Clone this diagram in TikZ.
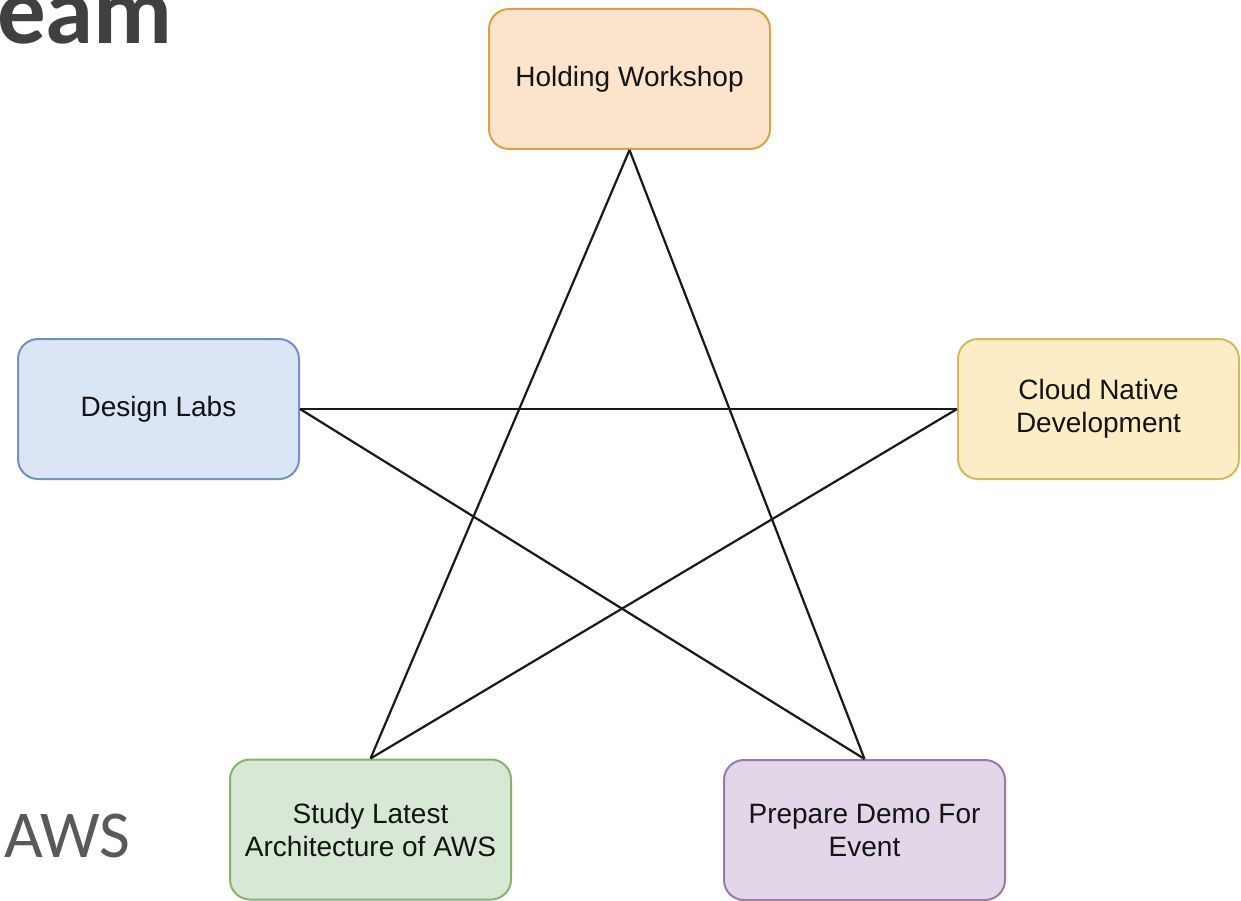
\documentclass[tikz,border=0pt]{standalone}
\usepackage{fontspec}
\setmainfont{Liberation Sans}
\newfontfamily\slidefont{Carlito}
\definecolor{orfill}{HTML}{FCE3CB}\definecolor{ordraw}{HTML}{D9A24A}
\definecolor{blfill}{HTML}{DAE6F5}\definecolor{bldraw}{HTML}{7392C2}
\definecolor{yefill}{HTML}{FCEDC6}\definecolor{yedraw}{HTML}{D8B85E}
\definecolor{grfill}{HTML}{D7E8D4}\definecolor{grdraw}{HTML}{86B46E}
\definecolor{pufill}{HTML}{E2D6E8}\definecolor{pudraw}{HTML}{9A7AAA}
\definecolor{titlegray}{HTML}{404040}
\definecolor{subgray}{HTML}{595959}
\tikzset{
  card/.style={rectangle, rounded corners=20pt, line width=2pt, inner sep=0pt,
    minimum width=281pt, minimum height=140pt, align=center,
    font=\fontsize{28}{33}\selectfont, text=black!92},
  link/.style={line width=2.2pt, black!90}
}
\begin{document}
\begin{tikzpicture}[x=1pt,y=-1pt]
\useasboundingbox (0,0) rectangle (1241,901);
\fill[white] (0,0) rectangle (1241,901);
\node[anchor=base west, inner sep=0pt, text=titlegray, font=\slidefont\bfseries\fontsize{97}{97}\selectfont] (title) at (-3,44) {eam};
\node[anchor=base west, inner sep=0pt, text=subgray, font=\slidefont\fontsize{67}{67}\selectfont] (aws) at (4,857) {AWS};
\node[card, fill=orfill, draw=ordraw] (hold) at (629.5,79) {Holding Workshop};
\node[card, fill=blfill, draw=bldraw] (design) at (158.5,409) {Design Labs};
\node[card, fill=yefill, draw=yedraw] (cloud) at (1098.5,409) {Cloud Native\\Development};
\node[card, fill=grfill, draw=grdraw] (study) at (370.5,829.5) {Study Latest\\Architecture of AWS};
\node[card, fill=pufill, draw=pudraw] (demo) at (864.5,830) {Prepare Demo For\\Event};
\draw[link] (hold.south) -- (study.north);
\draw[link] (hold.south) -- (demo.north);
\draw[link] (design.east) -- (cloud.west);
\draw[link] (design.east) -- (demo.north);
\draw[link] (cloud.west) -- (study.north);
\end{tikzpicture}
\end{document}
